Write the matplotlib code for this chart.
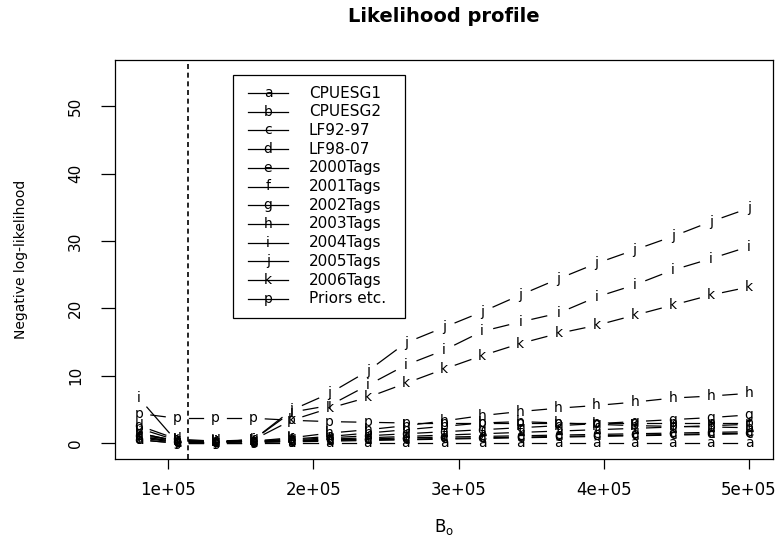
import numpy as np
import matplotlib
matplotlib.use("Agg")
import matplotlib.pyplot as plt
from matplotlib.patches import Rectangle

# ---------------- data ----------------
B0 = [80000, 106250, 132500, 158750, 185000, 211250, 237500, 263750, 290000,
      316250, 342500, 368750, 395000, 421250, 447500, 473750, 500000]
B0_mle = 114000

letters = ["a", "b", "c", "d", "e", "f", "g", "h", "i", "j", "k", "p"]
names = ["CPUESG1", "CPUESG2", "LF92-97", "LF98-07", "2000Tags", "2001Tags",
         "2002Tags", "2003Tags", "2004Tags", "2005Tags", "2006Tags", "Priors etc."]

nll_a = [0.5, 0.0, 0.0, 0.0, 0.0, 0.0, 0.0, 0.0, 0.0, 0.0, 0.0, 0.0, 0.0, 0.0, 0.0, 0.0, 0.0]
nll_b = [2.2, 0.4, 0.2, 0.3, 0.6, 1.0, 1.5, 2.0, 2.5, 3.0, 3.2, 3.0, 2.8, 2.6, 2.5, 2.4, 2.3]
nll_c = [1.0, 0.2, 0.1, 0.1, 0.2, 0.3, 0.4, 0.5, 0.6, 0.7, 0.8, 0.9, 1.0, 1.1, 1.2, 1.3, 1.4]
nll_d = [2.6, 0.6, 0.3, 0.3, 0.3, 0.4, 0.5, 0.6, 0.7, 0.8, 0.9, 1.0, 1.1, 1.2, 1.3, 1.4, 1.5]
nll_e = [0.5, 0.0, 0.1, 0.2, 0.3, 0.5, 0.6, 0.8, 0.9, 1.0, 1.1, 1.2, 1.3, 1.4, 1.5, 1.6, 1.7]
nll_f = [0.8, 0.1, 0.1, 0.2, 0.4, 0.6, 0.8, 1.0, 1.2, 1.4, 1.6, 1.8, 2.0, 2.2, 2.4, 2.6, 2.8]
nll_g = [1.0, 0.2, 0.2, 0.3, 0.5, 0.8, 1.1, 1.4, 1.7, 2.0, 2.3, 2.6, 2.9, 3.2, 3.5, 3.8, 4.2]
nll_h = [1.5, 0.3, 0.2, 0.3, 0.8, 1.5, 2.0, 2.6, 3.3, 4.1, 4.7, 5.2, 5.6, 6.1, 6.7, 7.0, 7.4]
nll_i = [6.7, 0.2, 0.2, 0.5, 4.6, 5.6, 8.6, 11.6, 13.8, 16.6, 18.0, 19.3, 21.7, 23.5, 25.7, 27.4, 29.2]
nll_j = [1.5, 0.3, 0.2, 0.5, 4.9, 7.4, 10.7, 14.9, 17.2, 19.5, 22.0, 24.4, 26.7, 28.7, 30.7, 32.9, 34.9]
nll_k = [1.2, 0.4, 0.3, 0.5, 3.4, 5.2, 6.8, 8.9, 11.0, 13.0, 14.8, 16.3, 17.5, 19.0, 20.5, 22.0, 23.2]
nll_p = [4.4, 3.7, 3.7, 3.7, 3.4, 3.2, 3.1, 3.0, 3.0, 3.0, 3.0, 3.0, 3.0, 3.0, 3.0, 3.0, 3.0]

series = [nll_a, nll_b, nll_c, nll_d, nll_e, nll_f, nll_g, nll_h, nll_i, nll_j, nll_k, nll_p]

x_ticks = [100000, 200000, 300000, 400000, 500000]
x_ticklabels = ["1e+05", "2e+05", "3e+05", "4e+05", "5e+05"]
y_ticks = [0, 10, 20, 30, 40, 50]

# ---------------- figure ----------------
plt.rcParams['font.family'] = ['DejaVu Sans']
W, H = 778, 536
fig = plt.figure(figsize=(W / 100, H / 100), dpi=100)
L, R, T, Bt = 115, 773, 60, 459
ax = fig.add_axes([L / W, 1 - Bt / H, (R - L) / W, (Bt - T) / H])

ax.set_xlim(63500, 516500)
ax.set_ylim(-2.35, 56.9)

for s in ax.spines.values():
    s.set_linewidth(0.9)
    s.set_color('black')

ax.set_xticks(x_ticks)
ax.set_xticklabels(x_ticklabels, fontsize=12)
ax.set_yticks(y_ticks)
ax.set_yticklabels([str(v) for v in y_ticks], fontsize=11, rotation=90, va='center')
ax.tick_params(axis='x', length=7, width=0.9, pad=9)
ax.tick_params(axis='y', length=10, width=0.9, pad=13)

ax.set_title("Likelihood profile", fontsize=14, fontweight='bold', pad=27)
ax.set_xlabel(r"B$_\mathrm{o}$", fontsize=12, labelpad=13)
ax.set_ylabel("Negative log-likelihood", fontsize=10, labelpad=29)

# vertical dashed line at MLE
ax.axvline(B0_mle, color='black', lw=1.2, linestyle=(0, (3.0, 2.2)))

# type = "b": letters at points, lines with gaps
gap = 12.0  # pixels
fig.canvas.draw()
trans = ax.transData
inv = trans.inverted()
xs = np.array(B0, dtype=float)
for let, ys in zip(letters, series):
    ys = np.array(ys, dtype=float)
    pts = trans.transform(np.column_stack([xs, ys]))
    for p1, p2 in zip(pts[:-1], pts[1:]):
        d = p2 - p1
        Ld = np.hypot(*d)
        if Ld > 2 * gap:
            u = d / Ld
            a = inv.transform(p1 + u * gap)
            b = inv.transform(p2 - u * gap)
            ax.plot([a[0], b[0]], [a[1], b[1]], color='black', lw=0.9)
    for xv, yv in zip(xs, ys):
        ax.text(xv, yv, let, ha='center', va='center', fontsize=10, color='black')

# legend (R style)
lx0, lx1, ly0, ly1 = 233, 405, 75, 318
def fx(px):
    return (px - L) / (R - L)
def fy(py):
    return 1 - (py - T) / (Bt - T)
ax.add_patch(Rectangle((fx(lx0), fy(ly1)), fx(lx1) - fx(lx0), fy(ly0) - fy(ly1),
                       transform=ax.transAxes, fill=False, lw=0.9, ec='black'))
row0, dy = 93, 18.7
for n, (let, nm) in enumerate(zip(letters, names)):
    yy = fy(row0 + n * dy)
    ax.plot([fx(248), fx(288)], [yy, yy], transform=ax.transAxes, color='black', lw=0.9)
    ax.text(fx(268), yy, let, transform=ax.transAxes, ha='center', va='center', fontsize=10)
    ax.text(fx(309), yy, nm, transform=ax.transAxes, ha='left', va='center', fontsize=11)

fig.savefig("out.png", dpi=100)
